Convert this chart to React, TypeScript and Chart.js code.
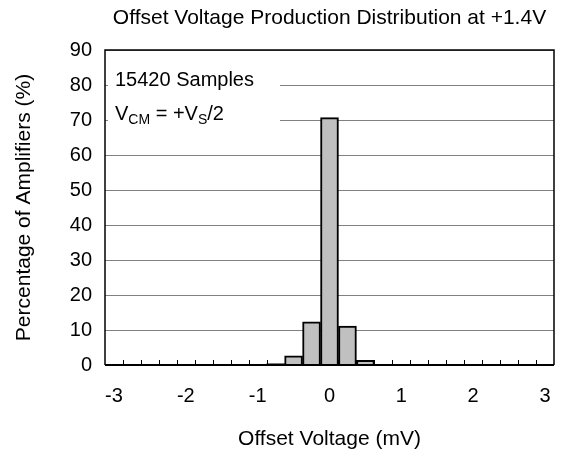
import React, { useEffect, useRef } from "react";
import { Chart, registerables } from "chart.js";

Chart.register(...registerables);

const categories = [
  "-3", "-2.75", "-2.5", "-2.25", "-2", "-1.75", "-1.5", "-1.25", "-1",
  "-0.75", "-0.5", "-0.25", "0", "0.25", "0.5", "0.75", "1", "1.25",
  "1.5", "1.75", "2", "2.25", "2.5", "2.75", "3",
];
const percentages = [
  0, 0, 0, 0, 0, 0, 0, 0, 0,
  0.4, 2.6, 12.3, 70.7, 11.1, 1.3, 0, 0, 0,
  0, 0, 0, 0, 0, 0, 0,
];
const titleText = "Offset Voltage Production Distribution at +1.4V";
const xTitle = "Offset Voltage (mV)";
const yTitle = "Percentage of Amplifiers (%)";
const noteLine1 = "15420 Samples";

const FONT = '"Liberation Sans", Arial, sans-serif';

const decorPlugin = {
  id: "decor",
  beforeDatasetsDraw(chart: any) {
    const { ctx, chartArea } = chart;
    const xs = chart.scales.x;
    ctx.save();
    ctx.strokeStyle = "#000";
    ctx.lineWidth = 1;
    ctx.beginPath();
    for (let i = 1; i < categories.length; i++) {
      const x = Math.round((xs.getPixelForValue(i - 1) + xs.getPixelForValue(i)) / 2) + 0.5;
      ctx.moveTo(x, chartArea.bottom);
      ctx.lineTo(x, chartArea.bottom - 5);
    }
    ctx.stroke();
    ctx.fillStyle = "#fff";
    ctx.fillRect(chartArea.left + 3, chartArea.top + 6, 172, 76);
    ctx.fillStyle = "#000";
    ctx.textBaseline = "alphabetic";
    ctx.textAlign = "left";
    const x0 = chartArea.left + 10;
    ctx.font = "20px " + FONT;
    ctx.fillText(noteLine1, x0, chartArea.top + 36);
    const segs: [string, boolean][] = [
      ["V", false],
      ["CM", true],
      [" = +V", false],
      ["S", true],
      ["/2", false],
    ];
    let x = x0;
    const base = chartArea.top + 70;
    for (const [t, sub] of segs) {
      ctx.font = (sub ? "14px " : "20px ") + FONT;
      ctx.fillText(t, x, sub ? base + 4 : base);
      x += ctx.measureText(t).width;
    }
    ctx.restore();
  },
  afterDraw(chart: any) {
    const { ctx, chartArea } = chart;
    ctx.save();
    ctx.strokeStyle = "#000";
    ctx.lineWidth = 1.5;
    ctx.beginPath();
    ctx.moveTo(chartArea.left, chartArea.bottom);
    ctx.lineTo(chartArea.left, chartArea.top);
    ctx.lineTo(chartArea.right, chartArea.top);
    ctx.lineTo(chartArea.right, chartArea.bottom);
    ctx.stroke();
    ctx.lineWidth = 2;
    ctx.beginPath();
    ctx.moveTo(chartArea.left, chartArea.bottom);
    ctx.lineTo(chartArea.right, chartArea.bottom);
    ctx.stroke();
    ctx.fillStyle = "#000";
    ctx.font = "21px " + FONT;
    ctx.textAlign = "center";
    ctx.textBaseline = "middle";
    ctx.fillText(titleText, (chartArea.left + chartArea.right) / 2, 18);
    ctx.restore();
  },
};

export default function App() {
  const ref = useRef<HTMLCanvasElement>(null);
  useEffect(() => {
    if (!ref.current) return;
    const chart = new Chart(ref.current, {
      type: "bar",
      data: {
        labels: categories,
        datasets: [
          {
            data: percentages,
            backgroundColor: "#c0c0c0",
            borderColor: "#000",
            borderWidth: 2,
            barPercentage: 1,
            categoryPercentage: 1,
          },
        ],
      },
      options: {
        animation: false,
        responsive: false,
        layout: { padding: { top: 50, right: 7, left: 0, bottom: 0 } },
        plugins: {
          legend: { display: false },
          tooltip: { enabled: false },
          title: { display: false },
        },
        scales: {
          x: {
            afterFit: (s: any) => {
              s.height = 87;
              s.paddingLeft = 0;
              s.paddingRight = 0;
            },
            grid: { display: true, drawOnChartArea: false, drawTicks: false },
            border: { display: false },
            ticks: {
              autoSkip: false,
              maxRotation: 0,
              minRotation: 0,
              padding: 19,
              color: "#000",
              font: { family: FONT, size: 20 },
              callback: (_v: any, i: number) => (i % 4 === 0 ? categories[i] : ""),
            },
            title: {
              display: true,
              text: xTitle,
              color: "#000",
              font: { family: FONT, size: 21 },
              padding: { top: 0, bottom: 0 },
            },
          },
          y: {
            min: 0,
            max: 90,
            afterFit: (s: any) => {
              s.width = 105;
              s.paddingTop = 0;
              s.paddingBottom = 0;
            },
            grid: { color: "#808080", lineWidth: 1, drawTicks: false },
            border: { display: false },
            ticks: {
              stepSize: 10,
              padding: 13,
              color: "#000",
              font: { family: FONT, size: 20 },
            },
            title: {
              display: true,
              text: yTitle,
              color: "#000",
              font: { family: FONT, size: 21 },
              padding: { top: 12, bottom: 0 },
            },
          },
        },
      },
      plugins: [decorPlugin],
    });
    return () => chart.destroy();
  }, []);
  return (
    <div style={{ position: "fixed", left: 0, top: 0, width: 561, height: 452, background: "#fff" }}>
      <canvas ref={ref} width={561} height={452} />
    </div>
  );
}
